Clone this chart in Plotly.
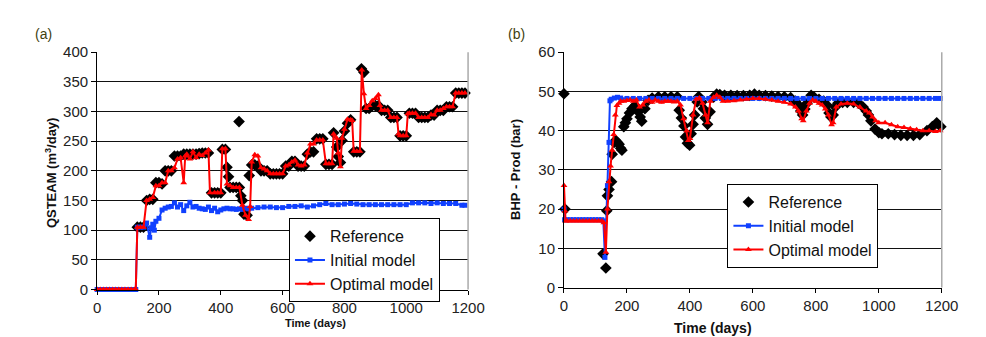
import plotly.graph_objects as go

# ---------------- Panel (a): QSTEAM ----------------
ref_a_t = [130, 140, 150, 160, 170, 180, 190, 200, 210, 220, 230, 240, 250, 260, 270, 280, 290, 300,
           310, 320, 330, 340, 350, 360, 370, 380, 390, 400, 405, 415, 420, 425, 430, 440, 450, 459,
           460, 465, 470, 475, 485, 492, 500, 510, 520, 530, 540, 550, 560, 570, 580, 590, 600, 610,
           620, 630, 640, 650, 660, 670, 680, 690, 700, 710, 720, 730, 740, 750, 760, 765, 775, 780,
           787, 792, 800, 810, 820, 830, 840, 850, 855, 863, 870, 880, 890, 900, 910, 920, 930, 940,
           950, 960, 970, 980, 990, 1000, 1010, 1020, 1030, 1040, 1050, 1060, 1070, 1080, 1090, 1100,
           1110, 1120, 1130, 1140, 1150, 1160, 1170, 1180, 1190]
ref_a_v = [105, 105, 105, 150, 152, 152, 180, 180, 178, 200, 200, 200, 225, 225, 225, 228, 228, 228,
           228, 228, 229, 230, 230, 230, 163, 163, 163, 163, 236, 236, 206, 190, 172, 172, 172, 283,
           172, 158, 150, 127, 125, 192, 210, 210, 208, 200, 200, 200, 195, 195, 195, 195, 195, 208,
           208, 216, 216, 208, 208, 208, 228, 232, 232, 254, 254, 254, 211, 211, 211, 264, 240, 224,
           214, 251, 267, 280, 286, 232, 232, 232, 372, 366, 305, 305, 310, 310, 310, 302, 302, 302,
           290, 290, 290, 259, 259, 259, 297, 297, 297, 290, 290, 290, 290, 294, 294, 302,
           302, 302, 308, 308, 308, 331, 331, 331, 331]

init_a_t = [0, 10, 20, 30, 40, 50, 60, 70, 80, 90, 100, 110, 120, 125, 130, 140, 150, 160, 170, 175,
            180, 185, 190, 200, 210, 220, 230, 240, 250, 260, 270, 280, 290, 300, 310, 320, 330, 340,
            350, 360, 370, 380, 390, 400, 410, 420, 430, 440, 450, 460, 470, 480, 490, 500, 520, 540,
            560, 580, 600, 620, 640, 660, 680, 700, 720, 740, 760, 780, 800, 820, 840, 860, 880, 900,
            920, 940, 960, 980, 1000, 1020, 1040, 1060, 1080, 1100, 1120, 1140, 1160, 1180, 1190]
init_a_v = [0, 0, 0, 0, 0, 0, 0, 0, 0, 0, 0, 0, 0, 0, 105, 105, 105, 112, 88, 104,
            110, 100, 115, 120, 134, 137, 139, 140, 146, 139, 143, 133, 141, 147, 139, 140, 137, 136,
            135, 139, 133, 137, 131, 134, 136, 137, 136, 136, 135, 136, 135, 137, 136, 137, 138, 139,
            139, 138, 138, 140, 140, 141, 139, 141, 143, 145, 143, 143, 144, 145, 144, 143, 143, 143,
            143, 143, 143, 143, 143, 146, 146, 146, 145, 146, 145, 145, 145, 142, 142]

opt_a_t = [0, 10, 20, 30, 40, 50, 60, 70, 80, 90, 100, 110, 120, 125, 130, 140, 150, 160, 170, 180,
           190, 200, 210, 220, 230, 240, 250, 260, 270, 280, 285, 290, 300, 310, 320, 330, 340, 350,
           360, 365, 380, 390, 400, 405, 415, 420, 430, 440, 450, 460, 470, 480, 490, 495, 500, 510,
           520, 530, 540, 550, 560, 570, 580, 590, 600, 610, 620, 630, 640, 650, 660, 670, 680, 690,
           700, 710, 720, 730, 740, 750, 760, 765, 775, 780, 787, 792, 800, 810, 820, 825, 830, 840,
           850, 856, 863, 870, 880, 890, 900, 910, 915, 920, 930, 940, 950, 960, 970, 975, 980, 990,
           1000, 1005, 1010, 1020, 1030, 1040, 1050, 1060, 1070, 1080, 1090, 1100, 1110, 1120, 1130,
           1140, 1150, 1160, 1170, 1180, 1190]
opt_a_v = [0, 0, 0, 0, 0, 0, 0, 0, 0, 0, 0, 0, 0, 0, 105, 105, 105, 150, 152, 155,
           175, 175, 180, 180, 200, 200, 205, 220, 222, 180, 225, 228, 220, 232, 222, 228, 226, 230,
           235, 163, 163, 163, 163, 237, 237, 178, 175, 172, 172, 172, 142, 125, 118, 140, 215, 227,
           225, 205, 203, 200, 195, 195, 195, 195, 195, 208, 210, 215, 218, 210, 208, 210, 230, 245,
           245, 252, 252, 252, 212, 212, 212, 262, 255, 230, 207, 255, 270, 287, 286, 285, 233, 233,
           233, 370, 330, 305, 310, 318, 322, 328, 310, 302, 302, 302, 290, 290, 290, 262, 259, 259,
           259, 296, 297, 297, 297, 290, 290, 290, 290, 295, 294, 302, 302, 305, 308,
           308, 308, 331, 331, 331, 331]

# ---------------- Panel (b): BHP - Prod ----------------
ref_b_t = [0, 3, 124, 133, 136, 138, 143, 151, 153, 159, 164, 170, 175, 180, 184, 190, 195, 200, 208,
           216, 226, 236, 242, 247, 257, 267, 280, 300, 320, 340, 360, 366, 373, 381, 386, 392, 399,
           404, 410, 415, 423, 428, 438, 443, 449, 456, 464, 475, 485, 495, 510, 530, 550, 570, 590,
           605, 620, 640, 660, 680, 700, 720, 735, 745, 752, 758, 765, 772, 785, 795, 810, 825, 835,
           842, 848, 855, 862, 870, 885, 900, 920, 936, 950, 960, 967, 975, 988, 1000, 1010, 1030,
           1050, 1070, 1090, 1110, 1130, 1153, 1170, 1184, 1197]
ref_b_v = [49.4, 20, 8.6, 5.0, 19.6, 23.4, 25, 27, 34, 37, 37.5, 37, 36.5, 35.5, 35, 41, 42, 43, 44.5,
           45.6, 46.4, 44.8, 43.5, 42.4, 45.6, 47.7, 48.3, 48.6, 48.6, 48.6, 48.6, 45.2, 43.2, 41.2, 38.4, 36.8, 36.3,
           39.2, 41.6, 44, 47.3, 48.7, 47.3, 45.6, 43.2, 41.6, 44.8, 48.5, 49.3, 49.2, 49, 49, 48.9, 48.9, 49,
           49.3, 49, 48.9, 48.8, 48.7, 48.6, 48.4, 47.5, 46.5, 45, 44, 45.5, 47, 49, 48.5, 48, 47.5, 46.5,
           44.5, 43.5, 44, 46, 47, 47.2, 47.2, 47.2, 47, 46, 45, 44, 42.5, 40.4, 39.5, 39.2, 39.2,
           39, 38.8, 38.8, 38.8, 39, 40, 41, 42, 41]

init_b_t = [0, 2, 10, 20, 30, 40, 50, 60, 70, 80, 90, 100, 110, 120, 125, 130, 138, 143, 146, 150,
            160, 170, 180, 200, 220, 240, 260, 280, 300, 320, 340, 360, 380, 400, 420, 440, 460, 480,
            500, 520, 540, 560, 580, 600, 620, 640, 660, 680, 700, 720, 740, 760, 780, 800, 820, 840,
            860, 880, 900, 920, 940, 960, 980, 1000, 1020, 1040, 1060, 1080, 1100, 1120, 1140, 1160,
            1180, 1195]
init_b_v = [20, 17.3, 17.3, 17.3, 17.3, 17.3, 17.3, 17.3, 17.3, 17.3, 17.3, 17.3, 17.3, 17.3, 17, 7.7, 26, 37, 47.6, 48,
            48.3, 48.5, 48.3, 48.2, 48.2, 48.2, 48.2, 48.2, 48.2, 48.2, 48.2, 48.2, 48.2, 48.2, 48.2, 48.2, 48.2, 48.2,
            48.2, 48.2, 48.2, 48.2, 48.2, 48.2, 48.2, 48.2, 48.2, 48.2, 48.2, 48.2, 48.2, 48.2, 48.2, 48.2, 48.2, 48.2,
            48.2, 48.2, 48.2, 48.2, 48.2, 48.2, 48.2, 48.2, 48.2, 48.2, 48.2, 48.2, 48.2, 48.2, 48.2, 48.2,
            48.2, 48.2]

opt_b_t = [0, 3, 5, 10, 20, 30, 40, 50, 60, 70, 80, 90, 100, 110, 120, 127, 133, 138, 143, 148, 153,
           158, 163, 168, 175, 180, 190, 200, 210, 220, 230, 240, 250, 260, 270, 280, 290, 300, 310,
           320, 330, 340, 350, 360, 370, 380, 390, 395, 400, 410, 420, 430, 440, 450, 456, 465, 475,
           485, 495, 505, 520, 540, 560, 580, 600, 620, 640, 660, 680, 700, 720, 735, 745, 755, 760,
           770, 780, 790, 800, 810, 820, 830, 840, 850, 855, 865, 880, 900, 920, 940, 960, 970, 980,
           990, 1000, 1020, 1040, 1060, 1080, 1100, 1120, 1140, 1160, 1180, 1195]
opt_b_v = [26, 19.5, 17, 17, 17, 17, 17, 17, 17, 17, 17, 17, 17, 17, 17, 16.5, 9, 20, 27, 31, 35,
           39, 44, 46.4, 47, 47.5, 47.5, 47.7, 47.8, 47.5, 47.8, 46, 46.5, 47.5, 47.8, 47.2, 47.8, 47.5, 47.2,
           47.5, 47.5, 47.5, 47.3, 47.5, 46.5, 43, 40, 37.5, 38, 44, 48, 48.3, 47, 44, 42, 47.5, 48.5,
           49, 48.5, 47.5, 47.5, 47.6, 47.8, 48, 48.2, 48.2, 48, 47.8, 47.5, 47.2, 46.8, 46, 45, 43, 42.5,
           45, 47, 47.8, 47.5, 47, 46.5, 45.5, 44, 41.5, 42, 46, 46.8, 47, 46.8, 46, 45, 44.5, 43.5,
           42.5, 42, 42, 41.5, 41, 40.8, 40.5, 40.2, 40, 40, 39.8, 40]

labels = ["Reference", "Initial model", "Optimal model"]
a_yticks = [0, 50, 100, 150, 200, 250, 300, 350, 400]
b_yticks = [0, 10, 20, 30, 40, 50, 60]
x_ticks = [0, 200, 400, 600, 800, 1000, 1200]

W, H = 986, 337
FONT = "Liberation Sans, Arial, sans-serif"
BLUE = "#1040ff"
RED = "#ff0000"

fig = go.Figure()

def add_panel(xa, ya, rt, rv, it, iv, ot, ov, legend):
    fig.add_trace(go.Scatter(x=rt, y=rv, mode="markers", name=labels[0], xaxis=xa, yaxis=ya,
                             legend=legend, cliponaxis=False,
                             marker=dict(symbol="diamond", size=9, color="black")))
    fig.add_trace(go.Scatter(x=it, y=iv, mode="lines+markers", name=labels[1], xaxis=xa, yaxis=ya,
                             legend=legend, cliponaxis=False,
                             line=dict(color=BLUE, width=2),
                             marker=dict(symbol="square", size=5, color=BLUE)))
    fig.add_trace(go.Scatter(x=ot, y=ov, mode="lines+markers", name=labels[2], xaxis=xa, yaxis=ya,
                             legend=legend, cliponaxis=False,
                             line=dict(color=RED, width=2),
                             marker=dict(symbol="triangle-up", size=6, color=RED)))

add_panel("x", "y", ref_a_t, ref_a_v, init_a_t, init_a_v, opt_a_t, opt_a_v, "legend")
add_panel("x2", "y2", ref_b_t, ref_b_v, init_b_t, init_b_v, opt_b_t, opt_b_v, "legend2")

def px_x(p):
    return p / W

def px_y(p):
    return 1 - p / H

common_x = dict(range=[0, 1200], tickvals=x_ticks, showgrid=False, zeroline=False,
                showline=True, linecolor="black", linewidth=1, ticks="outside", ticklen=4,
                tickcolor="black", tickfont=dict(size=15, color="#222", family=FONT))
common_y = dict(showgrid=True, gridcolor="#111", gridwidth=1, zeroline=False,
                showline=True, linecolor="black", linewidth=1, ticks="outside", ticklen=5,
                tickcolor="black", tickfont=dict(size=15, color="#222", family=FONT))

fig.update_layout(
    width=W, height=H, margin=dict(l=0, r=0, t=0, b=0),
    paper_bgcolor="white", plot_bgcolor="white",
    font=dict(family=FONT, color="black"),
    xaxis=dict(domain=[px_x(87), px_x(466)], anchor="y", **common_x),
    yaxis=dict(domain=[px_y(287), px_y(37)], anchor="x", range=[0, 400], tickvals=a_yticks, **common_y),
    xaxis2=dict(domain=[px_x(564), px_x(950)], anchor="y2", **common_x),
    yaxis2=dict(domain=[px_y(285), px_y(37)], anchor="x2", range=[0, 60], tickvals=b_yticks, **common_y),
    legend=dict(x=px_x(283), y=px_y(212), xanchor="left", yanchor="top",
                bordercolor="black", borderwidth=1, bgcolor="white",
                font=dict(size=16, family=FONT, color="#111")),
    legend2=dict(x=px_x(731), y=px_y(176), xanchor="left", yanchor="top",
                 bordercolor="black", borderwidth=1, bgcolor="white",
                 font=dict(size=16, family=FONT, color="#111")),
    showlegend=True,
)

# grey right borders of the plot areas
fig.add_shape(type="line", xref="paper", yref="paper", x0=px_x(466), x1=px_x(466),
              y0=px_y(287), y1=px_y(37), line=dict(color="#aaaaaa", width=1.5))
fig.add_shape(type="line", xref="paper", yref="paper", x0=px_x(950), x1=px_x(950),
              y0=px_y(285), y1=px_y(37), line=dict(color="#aaaaaa", width=1.5))

for txt, xp in (("(a)", 21), ("(b)", 505)):
    fig.add_annotation(xref="paper", yref="paper", xanchor="left", yanchor="middle",
                       showarrow=False, text=txt, x=px_x(xp), y=px_y(18),
                       font=dict(family=FONT, size=14, color="#3f3f10"))

fig.add_annotation(xref="paper", yref="paper", x=px_x(29), y=px_y(164), textangle=-90,
                   showarrow=False, text="<b>QSTEAM (m<sup>3</sup>/day)</b>",
                   font=dict(family=FONT, size=13, color="#111"))
fig.add_annotation(xref="paper", yref="paper", x=px_x(277), y=px_y(331),
                   showarrow=False, text="<b>Time (days)</b>",
                   font=dict(family=FONT, size=11, color="#111"))
fig.add_annotation(xref="paper", yref="paper", x=px_x(515), y=px_y(161), textangle=-90,
                   showarrow=False, text="<b>BHP - Prod (bar)</b>",
                   font=dict(family=FONT, size=13, color="#111"))
fig.add_annotation(xref="paper", yref="paper", x=px_x(758), y=px_y(328), yanchor="middle",
                   showarrow=False, text="<b>Time (days)</b>",
                   font=dict(family=FONT, size=14, color="#111"))

fig.write_html("out.html")
